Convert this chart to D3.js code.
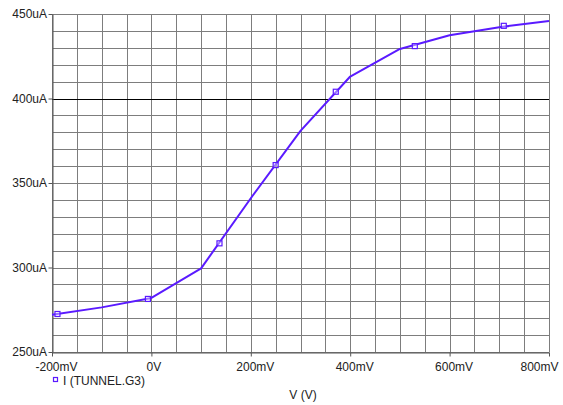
<!DOCTYPE html>
<html>
<head>
<meta charset="utf-8">
<script src="https://cdn.jsdelivr.net/npm/d3@7"></script>
<style>
  html, body { margin: 0; padding: 0; background: #fff; }
  svg { display: block; font-family: "Liberation Sans", Arial, sans-serif; }
</style>
</head>
<body>
<svg id="chart" width="563" height="405"></svg>
<script>
// Tunnel diode probe trace: I(TUNNEL.G3) versus V
const voltsMV = [-200, -100, 0, 100, 200, 300, 400, 500, 600, 700, 800];
const currentUA = [272.0, 276.4, 282.0, 299.5, 341.0, 380.8, 413.0, 429.3, 437.4, 442.2, 445.8];

// marker symbols placed along the trace
const markerMV = [-189, -7, 137, 250, 371, 530, 709];
const markerUA = [272.5, 281.4, 314.3, 360.6, 404.0, 431.0, 443.0];

const xTicks = [-200, 0, 200, 400, 600, 800];
const xTickLabels = ["-200mV", "0V", "200mV", "400mV", "600mV", "800mV"];
const yTicks = [250, 300, 350, 400, 450];
const yTickLabels = ["250uA", "300uA", "350uA", "400uA", "450uA"];

const seriesName = "I (TUNNEL.G3)";
const xTitle = "V (V)";

const W = 563;
const svg = d3.select("#chart");
const plotL = 52, plotR = 549, plotT = 14, plotB = 352;

const x = d3.scaleLinear().domain([-200, 800]).range([plotL, plotR]);
const y = d3.scaleLinear().domain([250, 450]).range([plotB, plotT]);

const traceColor = "#5a1aff";
const gridColor = "#7d7d7d";

// grid
const grid = svg.append("g");
const xGrid = d3.range(-200, 801, 50);
const yGrid = d3.range(250, 451, 10);
grid.selectAll("line.gx").data(xGrid).join("line")
  .attr("x1", d => Math.round(x(d)) + 0.5).attr("x2", d => Math.round(x(d)) + 0.5)
  .attr("y1", plotT).attr("y2", plotB)
  .attr("stroke", gridColor).attr("stroke-width", 1);
grid.selectAll("line.gy").data(yGrid).join("line")
  .attr("y1", d => Math.round(y(d)) + 0.5).attr("y2", d => Math.round(y(d)) + 0.5)
  .attr("x1", plotL).attr("x2", plotR)
  .attr("stroke", d => d === 400 ? "#000" : gridColor).attr("stroke-width", 1);

// axes
const xAxis = d3.axisBottom(x).tickValues(xTicks)
  .tickFormat((d, i) => xTickLabels[i]).tickSize(4).tickSizeOuter(0);
const yAxis = d3.axisLeft(y).tickValues(yTicks)
  .tickFormat((d, i) => yTickLabels[i]).tickSize(4).tickSizeOuter(0);

const gx = svg.append("g").attr("transform", `translate(0,${Math.round(plotB) + 0.5})`).call(xAxis);
const gy = svg.append("g").attr("transform", `translate(${plotL + 0.5},0)`).call(yAxis);
[gx, gy].forEach(g => {
  g.select(".domain").attr("stroke", "#555");
  g.selectAll(".tick line").attr("stroke", "#555");
  g.selectAll(".tick text").attr("fill", "#222").attr("font-size", 12)
    .attr("font-family", "'Liberation Sans', Arial, sans-serif");
});
gx.selectAll(".tick text").attr("dy", "0.71em").attr("y", 10)
  .attr("x", d => d === 0 ? 2 : 4);
// keep the rightmost label inside the page
gx.selectAll(".tick text").filter(d => d === 800)
  .attr("text-anchor", "end").attr("x", W - 5 - x(800));
gy.selectAll(".tick text").attr("x", -5.5);

// trace
const line = d3.line().x((d, i) => x(voltsMV[i])).y(d => y(d));
svg.append("path").datum(currentUA)
  .attr("d", line).attr("fill", "none")
  .attr("stroke", traceColor).attr("stroke-width", 2).attr("stroke-linejoin", "round");

svg.selectAll("rect.mk").data(markerMV).join("rect")
  .attr("x", d => x(d) - 2.5).attr("y", (d, i) => y(markerUA[i]) - 2.5)
  .attr("width", 5).attr("height", 5)
  .attr("fill", "#fff").attr("fill-opacity", 0.4)
  .attr("stroke", traceColor).attr("stroke-width", 1.2);

// legend
svg.append("rect").attr("x", 53.5).attr("y", 377.5).attr("width", 4).attr("height", 4)
  .attr("fill", "#fff").attr("stroke", traceColor).attr("stroke-width", 1.2);
svg.append("text").attr("x", 63).attr("y", 384.5).attr("font-size", 12).attr("fill", "#222")
  .text(seriesName);

// axis title
svg.append("text").attr("x", 303).attr("y", 399).attr("text-anchor", "middle")
  .attr("font-size", 12).attr("fill", "#222").text(xTitle);
</script>
</body>
</html>
